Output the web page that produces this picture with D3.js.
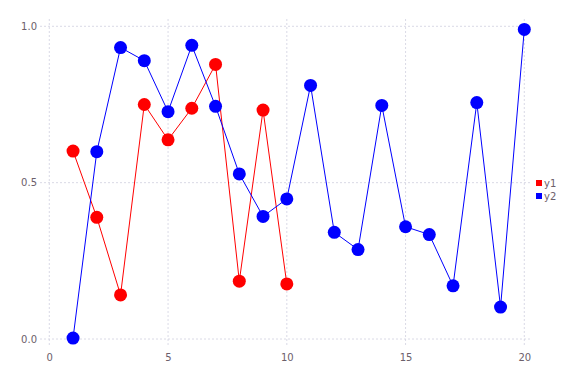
<!DOCTYPE html>
<html><head><meta charset="utf-8">
<script src="https://cdn.jsdelivr.net/npm/d3@7"></script>
<style>body{margin:0;background:#fff;}svg{display:block;}</style>
</head><body>
<svg id="chart" width="576" height="384"></svg>
<script>
const xValues1 = [1,2,3,4,5,6,7,8,9,10];
const y1Values = [0.601,0.389,0.141,0.750,0.637,0.738,0.878,0.185,0.732,0.176];
const xValues2 = [1,2,3,4,5,6,7,8,9,10,11,12,13,14,15,16,17,18,19,20];
const y2Values = [0.003,0.599,0.932,0.890,0.727,0.939,0.744,0.528,0.392,0.448,0.811,0.341,0.286,0.747,0.359,0.334,0.170,0.756,0.102,0.990];
const xTicks = [0,5,10,15,20];
const yTicks = [0.0,0.5,1.0];
const seriesNames = ["y1","y2"];
const seriesColors = ["#ff0000","#0000ff"];

const svg = d3.select("#chart");
const x = d3.scaleLinear().domain([0,20]).range([49.3,524.3]);
const y = d3.scaleLinear().domain([0,1]).range([339,26.3]);
const gridColor = "#d0d0e0";
const textColor = "#6c606b";
const font = "'DejaVu Sans', sans-serif";

// grid
const g = svg.append("g");
g.selectAll(".vg").data(xTicks).join("line")
  .attr("x1",d=>x(d)).attr("x2",d=>x(d)).attr("y1",19).attr("y2",346)
  .attr("stroke",gridColor).attr("stroke-width",0.8).attr("stroke-dasharray","2,2");
g.selectAll(".hg").data(yTicks).join("line")
  .attr("x1",40).attr("x2",531).attr("y1",d=>y(d)).attr("y2",d=>y(d))
  .attr("stroke",gridColor).attr("stroke-width",0.8).attr("stroke-dasharray","2,2");

// axes labels via d3 axes (no domain/ticks lines)
const xAxis = svg.append("g").attr("transform","translate(0,346)")
  .call(d3.axisBottom(x).tickValues(xTicks).tickFormat(d3.format("d")).tickSize(0).tickPadding(8));
const yAxis = svg.append("g").attr("transform","translate(40,0)")
  .call(d3.axisLeft(y).tickValues(yTicks).tickFormat(d3.format(".1f")).tickSize(0).tickPadding(3));
[xAxis,yAxis].forEach(a=>{
  a.select(".domain").remove();
  a.selectAll("text").attr("fill",textColor).style("font-family",font).style("font-size","10px");
});

// series
const series = [
  {xs:xValues1, ys:y1Values, color:seriesColors[0]},
  {xs:xValues2, ys:y2Values, color:seriesColors[1]}
];
const line = d3.line().x(d=>x(d[0])).y(d=>y(d[1]));
series.forEach(s=>{
  const pts = s.xs.map((v,i)=>[v,s.ys[i]]);
  svg.append("path").datum(pts).attr("d",line).attr("fill","none")
    .attr("stroke",s.color).attr("stroke-width",1);
});
series.forEach(s=>{
  const pts = s.xs.map((v,i)=>[v,s.ys[i]]);
  svg.append("g").selectAll("circle").data(pts).join("circle")
    .attr("cx",d=>x(d[0])).attr("cy",d=>y(d[1])).attr("r",6.5)
    .attr("fill",s.color);
});

// legend
const leg = svg.append("g").attr("transform","translate(536,183)");
seriesNames.forEach((n,i)=>{
  leg.append("rect").attr("x",0).attr("y",i*13-3).attr("width",6).attr("height",6)
    .attr("fill",seriesColors[i]);
  leg.append("text").attr("x",8).attr("y",i*13).attr("dy","0.35em")
    .attr("fill",textColor).style("font-family",font).style("font-size","10px").text(n);
});
</script>
</body></html>
